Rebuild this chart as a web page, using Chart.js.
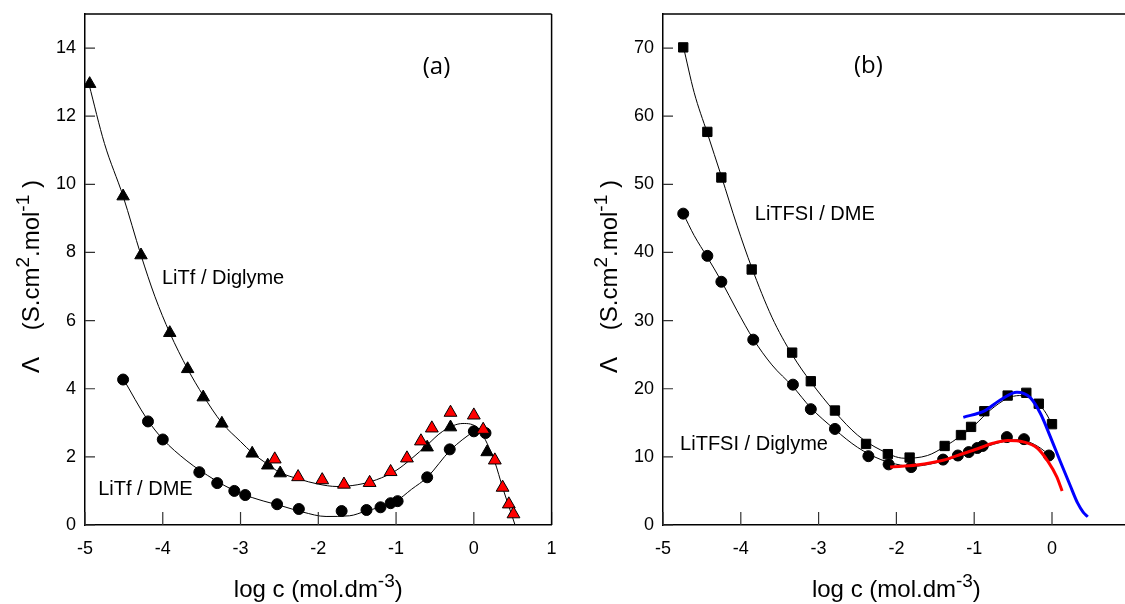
<!DOCTYPE html>
<html>
<head>
<meta charset="utf-8">
<script src="https://cdn.jsdelivr.net/npm/chart.js@4.4.1/dist/chart.umd.min.js"></script>
<style>
  html, body { margin: 0; padding: 0; background: #fff; }
  #wrap { position: relative; width: 1125px; height: 604px; overflow: hidden; }
  #left { position: absolute; left: 0; top: 0; }
  #right { position: absolute; left: 560px; top: 0; }
</style>
</head>
<body>
<div id="wrap">
  <canvas id="left" width="560" height="604"></canvas>
  <canvas id="right" width="580" height="604"></canvas>
</div>
<script>
// ---- panel (a) : LiTf ----
var aDigX    = [-4.94, -4.51, -4.28, -3.91, -3.68, -3.48, -3.24, -2.85, -2.65, -2.49, -0.60, -0.30, 0.17];
var aDigY    = [12.95, 9.65, 7.92, 5.64, 4.58, 3.75, 2.98, 2.10, 1.75, 1.52, 2.28, 2.87, 2.14];
var aRedX    = [-2.56, -2.26, -1.95, -1.67, -1.34, -1.07, -0.86, -0.68, -0.54, -0.30, 0.00, 0.12, 0.27, 0.37, 0.45, 0.51];
var aRedY    = [1.93, 1.41, 1.32, 1.19, 1.24, 1.56, 1.96, 2.46, 2.84, 3.30, 3.22, 2.80, 1.90, 1.10, 0.61, 0.32];
var aDmeX    = [-4.51, -4.19, -4.00, -3.53, -3.30, -3.08, -2.94, -2.53, -2.25, -1.70, -1.38, -1.20, -1.07, -0.98, -0.60, -0.31, 0.00, 0.15];
var aDmeY    = [4.27, 3.04, 2.51, 1.55, 1.23, 1.00, 0.88, 0.61, 0.47, 0.41, 0.44, 0.52, 0.64, 0.70, 1.40, 2.22, 2.75, 2.70];
// fitted curves
var aDigFitX = [-4.95, -4.75, -4.51, -4.28, -4.10, -3.91, -3.68, -3.48, -3.24, -3.00, -2.85, -2.65, -2.50, -2.25, -2.00, -1.76, -1.50, -1.25, -1.00, -0.80, -0.60, -0.40, -0.14, 0.05, 0.17, 0.27, 0.37, 0.45, 0.53];
var aDigFitY = [12.95, 11.2, 9.65, 7.92, 6.70, 5.64, 4.58, 3.80, 3.00, 2.45, 2.12, 1.78, 1.55, 1.35, 1.20, 1.13, 1.18, 1.33, 1.60, 1.95, 2.35, 2.75, 2.98, 2.85, 2.40, 1.85, 1.10, 0.55, 0.00];
var aDmeFitX = [-4.51, -4.20, -4.00, -3.70, -3.50, -3.20, -3.00, -2.70, -2.50, -2.20, -1.90, -1.60, -1.40, -1.20, -1.00, -0.80, -0.60, -0.30, 0.00, 0.05];
var aDmeFitY = [4.30, 3.10, 2.52, 1.90, 1.57, 1.15, 0.93, 0.70, 0.58, 0.38, 0.25, 0.27, 0.40, 0.53, 0.70, 1.05, 1.40, 2.20, 2.75, 2.82];

// ---- panel (b) : LiTFSI ----
var bDmeX    = [-4.74, -4.43, -4.25, -3.86, -3.34, -3.10, -2.79, -2.39, -2.11, -1.83, -1.38, -1.17, -1.04, -0.87, -0.57, -0.33, -0.17, 0.00];
var bDmeY    = [70.1, 57.7, 51.0, 37.5, 25.3, 21.1, 16.8, 11.9, 10.4, 9.9, 11.6, 13.2, 14.4, 16.7, 19.0, 19.4, 17.8, 14.8];
var bDigX    = [-4.74, -4.43, -4.25, -3.84, -3.33, -3.10, -2.79, -2.36, -2.10, -1.81, -1.40, -1.21, -1.07, -0.96, -0.89, -0.58, -0.36, -0.04];
var bDigY    = [45.7, 39.5, 35.7, 27.2, 20.6, 17.0, 14.1, 10.1, 8.9, 8.5, 9.6, 10.2, 10.7, 11.3, 11.6, 12.9, 12.6, 10.2];
var bDmeFitX = [-4.74, -4.60, -4.43, -4.25, -4.05, -3.86, -3.60, -3.34, -3.10, -2.79, -2.50, -2.20, -1.90, -1.60, -1.38, -1.17, -1.00, -0.80, -0.57, -0.42, -0.25, -0.10, 0.00];
var bDmeFitY = [70.3, 63.5, 57.5, 51.2, 44.0, 37.8, 30.5, 25.0, 21.0, 16.6, 13.2, 11.0, 9.8, 10.2, 11.5, 13.1, 14.6, 16.8, 18.6, 19.0, 18.4, 16.8, 14.8];
var bDigFitX = [-4.74, -4.60, -4.43, -4.25, -4.05, -3.84, -3.60, -3.33, -3.10, -2.79, -2.50, -2.20, -1.95, -1.80, -1.50, -1.20, -0.90, -0.60, -0.45, -0.30, -0.15, -0.04];
var bDigFitY = [45.7, 42.5, 39.3, 35.8, 31.5, 27.3, 23.5, 20.3, 17.2, 14.0, 11.4, 9.6, 8.8, 8.6, 9.1, 10.1, 11.3, 12.3, 12.5, 12.2, 11.3, 10.3];
var bBlueX   = [-1.14, -0.86, -0.67, -0.45, -0.28, -0.15, -0.03, 0.10, 0.23, 0.33, 0.40, 0.46];
var bBlueY   = [15.8, 16.8, 18.3, 19.5, 18.7, 16.4, 13.2, 9.5, 5.9, 3.2, 1.9, 1.2];
var bRedX    = [-2.08, -1.74, -1.40, -1.14, -0.93, -0.76, -0.57, -0.37, -0.19, -0.05, 0.06, 0.13];
var bRedY    = [8.5, 8.8, 9.5, 10.5, 11.3, 12.0, 12.4, 12.2, 11.3, 9.3, 7.1, 5.0];

var FONT = "'Liberation Sans', Arial, sans-serif";
var PX_PER_DECADE = 77.8;   // both panels share the same x scale

function pts(xs, ys) {
  return xs.map(function (x, i) { return {x: x, y: ys[i]}; });
}

function markers(xs, ys, style, fill, r) {
  return {data: pts(xs, ys), showLine: false, pointStyle: style, pointRadius: r,
    pointBackgroundColor: fill, pointBorderColor: '#000', pointBorderWidth: 1, order: 1};
}

function fitLine(xs, ys, color, w, order) {
  return {data: pts(xs, ys), showLine: true, pointRadius: 0, borderColor: color,
    borderWidth: w, cubicInterpolationMode: 'monotone', fill: false, order: order};
}

// text with superscript pieces: parts = [[text, isSup], ...]
function drawRich(ctx, parts, x, y, size, align) {
  var supSize = Math.round(size * 0.78);
  var total = 0;
  parts.forEach(function (p) {
    ctx.font = (p[1] ? supSize : size) + 'px ' + FONT;
    total += ctx.measureText(p[0]).width;
  });
  var cx = align === 'center' ? x - total / 2 : x;
  ctx.textAlign = 'left';
  ctx.textBaseline = 'alphabetic';
  parts.forEach(function (p) {
    ctx.font = (p[1] ? supSize : size) + 'px ' + FONT;
    ctx.fillText(p[0], cx, p[1] ? y - size * 0.4 : y);
    cx += ctx.measureText(p[0]).width;
  });
}

var frame = {
  id: 'frame',
  afterDraw: function (chart, args, o) {
    var ctx = chart.ctx, a = chart.chartArea;
    var xs = chart.scales.x, ys = chart.scales.y;
    ctx.save();
    // inward tick marks
    ctx.strokeStyle = '#333';
    ctx.lineWidth = 1.2;
    ctx.beginPath();
    xs.ticks.forEach(function (t) {
      var px = xs.getPixelForValue(t.value);
      ctx.moveTo(px, a.bottom); ctx.lineTo(px, a.bottom - 13);
    });
    ys.ticks.forEach(function (t) {
      var py = ys.getPixelForValue(t.value);
      ctx.moveTo(a.left, py); ctx.lineTo(a.left + 10, py);
    });
    ctx.stroke();
    // box
    ctx.strokeStyle = '#000';
    ctx.lineWidth = 1.5;
    ctx.beginPath();
    ctx.moveTo(a.left, a.top); ctx.lineTo(a.right, a.top);
    if (o.rightEdge) { ctx.moveTo(a.right, a.top); ctx.lineTo(a.right, a.bottom); }
    ctx.stroke();
    // labels inside the plot
    ctx.fillStyle = '#000';
    o.notes.forEach(function (n) {
      var px = xs.getPixelForValue(n.x), py = ys.getPixelForValue(n.y);
      ctx.font = n.size + 'px ' + (n.font || FONT);
      ctx.textAlign = n.align || 'left';
      ctx.textBaseline = 'alphabetic';
      ctx.fillText(n.text, px, py);
    });
    // axis titles
    drawRich(ctx, [['log c (mol.dm', false], ['-3', true], [')', false]],
      xs.getPixelForValue(-2), 597, 24, 'center');
    ctx.translate(a.left - 46, (a.top + a.bottom) / 2 + 7);
    ctx.rotate(-Math.PI / 2);
    drawRich(ctx, [['\u039B    (S.cm', false], ['2', true], ['.mol', false], ['-1', true], [' )', false]],
      0, 0, 24, 'center');
    ctx.restore();
  }
};

function makeChart(id, sets, xMax, yMax, yStep, yAxisW, padRight, plugOpts) {
  return new Chart(document.getElementById(id), {
    type: 'scatter',
    data: {datasets: sets},
    options: {
      responsive: false,
      animation: false,
      devicePixelRatio: 1,
      layout: {padding: {top: 14, right: padRight, left: 0, bottom: 0}},
      plugins: {legend: {display: false}, tooltip: {enabled: false}, frame: plugOpts},
      scales: {
        x: {
          type: 'linear', min: -5, max: xMax,
          afterDataLimits: function (s) {
            if (plugOpts.openRight && s.width > 0) { s.max = s.min + s.width / PX_PER_DECADE; }
          },
          afterFit: function (s) { s.height = 79; s.paddingLeft = 0; s.paddingRight = 0; },
          grid: {display: false, drawTicks: false},
          border: {display: true, color: '#000', width: 1.5},
          ticks: {stepSize: 1, includeBounds: false, padding: 13, color: '#000',
            font: {family: FONT, size: 18}}
        },
        y: {
          type: 'linear', min: 0, max: yMax,
          afterFit: function (s) { s.width = yAxisW; s.paddingTop = 0; s.paddingBottom = 0; },
          grid: {display: false, drawTicks: false},
          border: {display: true, color: '#000', width: 1.5},
          ticks: {stepSize: yStep, includeBounds: false, padding: 9, color: '#000',
            font: {family: FONT, size: 18}}
        }
      }
    },
    plugins: [frame]
  });
}

makeChart('left', [
  markers(aRedX, aRedY, 'triangle', '#ff0000', 7.4),
  markers(aDigX, aDigY, 'triangle', '#000', 7.2),
  markers(aDmeX, aDmeY, 'circle', '#000', 5.5),
  fitLine(aDigFitX, aDigFitY, '#000', 1, 2),
  fitLine(aDmeFitX, aDmeFitY, '#000', 1, 2)
], 1, 15, 2, 85, 8, {
  rightEdge: true, openRight: false,
  notes: [
    {text: 'LiTf / Diglyme', x: -4.01, y: 7.08, size: 20},
    {text: 'LiTf / DME', x: -4.83, y: 0.88, size: 20},
    {text: '(a)', x: -0.48, y: 13.25, size: 24, align: 'center', font: "'Open Sans', sans-serif"}
  ]
});

makeChart('right', [
  fitLine(bBlueX, bBlueY, '#0000ff', 3, 0),
  fitLine(bRedX, bRedY, '#ff0000', 3, 0),
  markers(bDmeX, bDmeY, 'rect', '#000', 6.6),
  markers(bDigX, bDigY, 'circle', '#000', 5.5),
  fitLine(bDmeFitX, bDmeFitY, '#000', 1, 2),
  fitLine(bDigFitX, bDigFitY, '#000', 1, 2)
], 1, 75, 10, 103, 0, {
  rightEdge: false, openRight: true,
  notes: [
    {text: 'LiTFSI / DME', x: -3.82, y: 44.7, size: 20},
    {text: 'LiTFSI / Diglyme', x: -4.78, y: 11.0, size: 20},
    {text: '(b)', x: -2.36, y: 66.3, size: 24, align: 'center', font: "'Open Sans', sans-serif"}
  ]
});
</script>
</body>
</html>
